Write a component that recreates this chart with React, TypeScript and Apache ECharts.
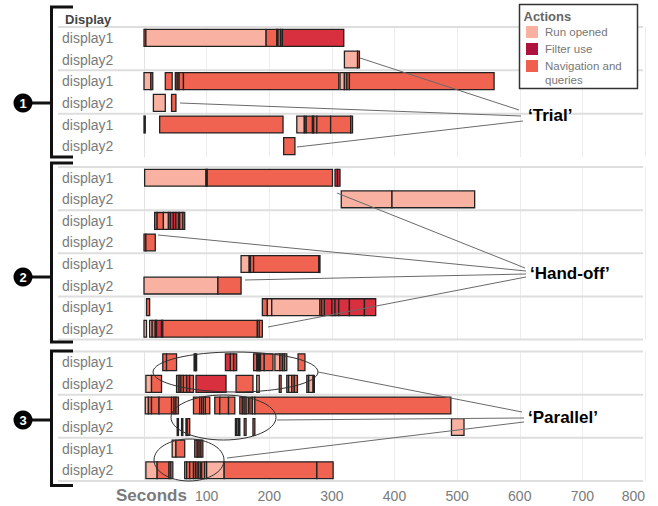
import React, { useEffect, useRef } from 'react';
import * as echarts from 'echarts';

// Action categories
const ACTIONS = ['Run opened', 'Filter use', 'Navigation and queries'];
const BAR_COLORS = ['#F9B2A2', '#D8303F', '#F06350'];
const LEGEND_COLORS = ['#FBB1A1', '#B0123E', '#F0604E'];
const ROW_LABELS = ['display1', 'display2'];
const X_MAX = 800;
const X_STEP = 100;

// [row, start (s), end (s), action index]
const group1Segments: number[][] = [
  [0, 0, 3, 2], [0, 3, 195, 0], [0, 195, 212, 2], [0, 212, 214, 2], [0, 214, 218, 2], [0, 218, 221, 1], [0, 221, 319, 1],
  [1, 320, 341, 0], [1, 341, 344, 2],
  [2, 0, 11, 0], [2, 11, 14, 2], [2, 34, 45, 2], [2, 50, 53, 2], [2, 53, 56, 2], [2, 56, 63, 2], [2, 63, 311, 2],
  [2, 313, 320, 0], [2, 320, 324, 2], [2, 324, 328, 2], [2, 328, 559, 2],
  [3, 15, 34, 0], [3, 44, 51, 2],
  [4, 0, 2, 2], [4, 25, 222, 2], [4, 244, 256, 0], [4, 256, 259, 1], [4, 259, 269, 2], [4, 269, 271, 2], [4, 271, 276, 2],
  [4, 276, 298, 2], [4, 298, 330, 2], [4, 330, 333, 2],
  [5, 223, 241, 2],
];

const group2Segments: number[][] = [
  [0, 1, 99, 0], [0, 99, 101, 2], [0, 101, 301, 2], [0, 305, 309, 1], [0, 309, 313, 1],
  [1, 315, 396, 0], [1, 396, 528, 0],
  [2, 17, 21, 2], [2, 21, 31, 2], [2, 31, 39, 0], [2, 39, 42, 2], [2, 42, 47, 1], [2, 47, 51, 1], [2, 51, 55, 2],
  [2, 55, 57, 2], [2, 57, 62, 2], [2, 62, 65, 2],
  [3, 0, 3, 2], [3, 3, 18, 2],
  [4, 155, 168, 0], [4, 168, 170, 2], [4, 170, 175, 2], [4, 175, 279, 2], [4, 279, 281, 2],
  [5, 0, 118, 0], [5, 118, 155, 2],
  [6, 4, 9, 2], [6, 189, 197, 2], [6, 197, 204, 0], [6, 204, 281, 0], [6, 281, 284, 2], [6, 284, 288, 2], [6, 288, 300, 1],
  [6, 300, 305, 1], [6, 305, 311, 1], [6, 311, 328, 1], [6, 328, 352, 1], [6, 352, 370, 1],
  [7, 0, 4, 0], [7, 9, 13, 0], [7, 13, 18, 2], [7, 18, 20, 1], [7, 20, 28, 1], [7, 28, 30, 2], [7, 30, 181, 2],
  [7, 181, 184, 0], [7, 184, 189, 2],
];

const group3Segments: number[][] = [
  [0, 30, 36, 2], [0, 36, 52, 2], [0, 80, 82, 2], [0, 82, 84, 2], [0, 130, 138, 1], [0, 138, 143, 2], [0, 143, 148, 1],
  [0, 175, 180, 2], [0, 180, 182, 2], [0, 182, 184, 1], [0, 184, 186, 2], [0, 186, 192, 2], [0, 192, 206, 2],
  [0, 209, 217, 0], [0, 217, 221, 2], [0, 221, 224, 0], [0, 224, 228, 2], [0, 246, 257, 2],
  [1, 3, 12, 0], [1, 12, 28, 2], [1, 52, 56, 2], [1, 56, 59, 2], [1, 59, 63, 2], [1, 63, 68, 2], [1, 68, 73, 1],
  [1, 73, 79, 2], [1, 83, 131, 1], [1, 147, 174, 2], [1, 180, 184, 0], [1, 216, 219, 2], [1, 228, 231, 2],
  [1, 231, 236, 0], [1, 236, 240, 2], [1, 240, 245, 2], [1, 260, 263, 2], [1, 263, 270, 0], [1, 270, 272, 2],
  [2, 2, 7, 0], [2, 7, 12, 2], [2, 12, 24, 2], [2, 24, 44, 2], [2, 44, 48, 2], [2, 48, 51, 2], [2, 51, 55, 2],
  [2, 79, 89, 2], [2, 89, 92, 2], [2, 92, 95, 2], [2, 95, 98, 0], [2, 98, 105, 2], [2, 113, 121, 2], [2, 121, 135, 2],
  [2, 135, 145, 2], [2, 153, 157, 2], [2, 157, 160, 2], [2, 160, 163, 0], [2, 163, 167, 2], [2, 169, 173, 2],
  [2, 173, 177, 0], [2, 177, 490, 2],
  [3, 53, 55, 2], [3, 60, 62, 2], [3, 67, 69, 2], [3, 69, 73, 2], [3, 146, 148, 2], [3, 148, 151, 2], [3, 151, 153, 2],
  [3, 160, 163, 2], [3, 174, 177, 2], [3, 491, 511, 0],
  [4, 45, 51, 0], [4, 51, 65, 2], [4, 81, 85, 2], [4, 85, 88, 2], [4, 88, 91, 2], [4, 91, 94, 2],
  [5, 3, 21, 0], [5, 21, 40, 2], [5, 40, 43, 2], [5, 43, 46, 0], [5, 65, 68, 0], [5, 68, 73, 2], [5, 73, 79, 2],
  [5, 79, 82, 2], [5, 83, 86, 2], [5, 87, 90, 2], [5, 92, 97, 2], [5, 97, 100, 0], [5, 100, 128, 0],
  [5, 128, 276, 2], [5, 276, 302, 2],
];

const GROUP_SEGMENTS = [group1Segments, group2Segments, group3Segments];
const GROUP_ROWS = [6, 8, 6];
const GROUP_TOPS = [27, 167, 351.5];
const GROUP_HEIGHTS = [130, 172.5, 129.5];
const GROUP_NUMBERS = ['1', '2', '3'];

const FONT = '"Liberation Sans", Arial, sans-serif';

export default function App() {
  const ref = useRef<HTMLDivElement>(null);
  useEffect(() => {
    document.body.style.margin = '0';
    if (!ref.current) return;
    const chart = echarts.init(ref.current, null, { renderer: 'svg' });
    const left = 144;
    const right = 13;

    const grids = GROUP_ROWS.map((_, i) => ({
      left, right, top: GROUP_TOPS[i], height: GROUP_HEIGHTS[i],
    }));

    const xAxes = GROUP_ROWS.map((_, i) => ({
      type: 'value', gridIndex: i, min: 0, max: X_MAX, interval: X_STEP,
      axisLine: { show: false }, axisTick: { show: false },
      splitLine: { show: true, lineStyle: { color: '#ececec', width: 1 } },
      axisLabel: {
        show: i === 2, color: '#7a7a7a', fontSize: 14, margin: 8, fontFamily: FONT,
        showMinLabel: false, alignMaxLabel: 'right',
      },
    }));

    const yAxes = GROUP_ROWS.map((n, i) => ({
      type: 'category', gridIndex: i, inverse: true,
      data: Array.from({ length: n }, (_, k) => `g${i}r${k}`),
      axisTick: { show: false },
      axisLine: { show: true, lineStyle: { color: '#e4e4e4' } },
      splitLine: { show: false },
      axisLabel: {
        formatter: (_v: string, idx: number) => ROW_LABELS[idx % 2],
        color: '#7a7a7a', fontSize: 14, align: 'left', margin: 82, fontFamily: FONT,
      },
    }));

    const series = GROUP_SEGMENTS.map((segs, i) => ({
      type: 'custom', xAxisIndex: i, yAxisIndex: i,
      encode: { x: [1, 2], y: 0 },
      data: segs,
      renderItem: (_p: any, api: any) => {
        const row = api.value(0);
        const s = api.value(1);
        const e = api.value(2);
        const a = api.value(3);
        const p0 = api.coord([s, row]);
        const p1 = api.coord([e, row]);
        const h = api.size([0, 1])[1] * 0.78;
        return {
          type: 'rect',
          shape: { x: p0[0], y: p0[1] - h / 2, width: Math.max(p1[0] - p0[0], 0.6), height: h },
          style: { fill: BAR_COLORS[a], stroke: '#222', lineWidth: 1.3 },
        };
      },
    }));

    const graphic: any[] = [];
    // trial separators
    GROUP_ROWS.forEach((n, i) => {
      const rowH = GROUP_HEIGHTS[i] / n;
      for (let k = 0; k <= n / 2; k++) {
        if (i === 0 && k === n / 2) continue;
        const y = GROUP_TOPS[i] + k * 2 * rowH;
        graphic.push({
          type: 'line', z: 1, silent: true,
          shape: { x1: 58, y1: y, x2: 643, y2: y },
          style: { stroke: '#dedede', lineWidth: 2 },
        });
      }
    });

    // header
    graphic.push({
      type: 'text', z: 5, style: { text: 'Display', x: 65, y: 19, verticalAlign: 'middle', fill: '#444', font: `bold 13px ${FONT}` },
    });
    graphic.push({
      type: 'text', z: 5, style: { text: 'Seconds', x: 116, y: 495, verticalAlign: 'middle', fill: '#7a7a7a', font: `bold 17px ${FONT}` },
    });

    // brackets & numbers
    const brackets = [
      { top: 7, bottom: 157, cy: 103 },
      { top: 163, bottom: 342, cy: 277 },
      { top: 351, bottom: 485.5, cy: 420 },
    ];
    brackets.forEach((b, i) => {
      graphic.push({
        type: 'polyline', z: 5,
        shape: { points: [[73, b.top], [51.5, b.top], [51.5, b.bottom], [73, b.bottom]] },
        style: { stroke: '#111', lineWidth: 3, fill: null },
      });
      graphic.push({ type: 'line', z: 5, shape: { x1: 32, y1: b.cy, x2: 51.5, y2: b.cy }, style: { stroke: '#111', lineWidth: 3 } });
      graphic.push({ type: 'circle', z: 6, shape: { cx: 23, cy: b.cy, r: 9.5 }, style: { fill: '#000' } });
      graphic.push({
        type: 'text', z: 7,
        style: { text: GROUP_NUMBERS[i], x: 23, y: b.cy + 0.5, align: 'center', verticalAlign: 'middle', fill: '#fff', font: `bold 13px ${FONT}` },
      });
    });

    // annotations
    const annLines = [
      [360, 58, 519, 110], [180, 103, 521, 116], [297, 147, 523, 121],
      [337, 193, 525, 268], [158, 235, 526, 271], [245, 280, 526, 274], [268, 327, 526, 277],
      [318, 372, 522, 412], [277, 420, 524, 418], [227, 458, 524, 422],
    ];
    annLines.forEach((l) => {
      graphic.push({ type: 'line', z: 20, silent: true, shape: { x1: l[0], y1: l[1], x2: l[2], y2: l[3] }, style: { stroke: '#6a6a6a', lineWidth: 1 } });
    });
    const annTexts = [
      { t: '\u2018Trial\u2019', x: 528, y: 115 },
      { t: '\u2018Hand-off\u2019', x: 530, y: 273 },
      { t: '\u2018Parallel\u2019', x: 528, y: 417 },
    ];
    annTexts.forEach((a) => {
      graphic.push({ type: 'text', z: 21, style: { text: a.t, x: a.x, y: a.y, verticalAlign: 'middle', fill: '#000', font: `bold 17px ${FONT}` } });
    });
    const ellipses = [
      [235.5, 372, 82.5, 20], [223.5, 417.5, 52.5, 22.5], [189, 460, 35, 21],
    ];
    ellipses.forEach((e) => {
      graphic.push({ type: 'ellipse', z: 20, silent: true, shape: { cx: e[0], cy: e[1], rx: e[2], ry: e[3] }, style: { fill: null, stroke: '#333', lineWidth: 1 } });
    });

    // legend
    graphic.push({ type: 'rect', z: 30, shape: { x: 519.5, y: 4.5, width: 118, height: 84 }, style: { fill: '#fff', stroke: '#333', lineWidth: 1.5 } });
    graphic.push({ type: 'text', z: 31, style: { text: 'Actions', x: 523.5, y: 16, verticalAlign: 'middle', fill: '#666', font: `bold 13px ${FONT}` } });
    const legendYs = [32, 49, 66];
    const legendLabels = ['Run opened', 'Filter use', 'Navigation and\nqueries'];
    ACTIONS.forEach((_a, i) => {
      graphic.push({ type: 'rect', z: 31, shape: { x: 526, y: legendYs[i] - 6, width: 12, height: 12 }, style: { fill: LEGEND_COLORS[i] } });
      graphic.push({
        type: 'text', z: 31,
        style: { text: legendLabels[i], x: 545, y: legendYs[i] - 7, verticalAlign: 'top', fill: '#777', font: `11.5px ${FONT}`, lineHeight: 14 },
      });
    });

    chart.setOption({
      animation: false,
      grid: grids,
      xAxis: xAxes,
      yAxis: yAxes,
      series,
      graphic,
    });
    return () => chart.dispose();
  }, []);
  return <div ref={ref} style={{ width: 658, height: 506, position: 'absolute', left: 0, top: 0, background: '#fff' }} />;
}
